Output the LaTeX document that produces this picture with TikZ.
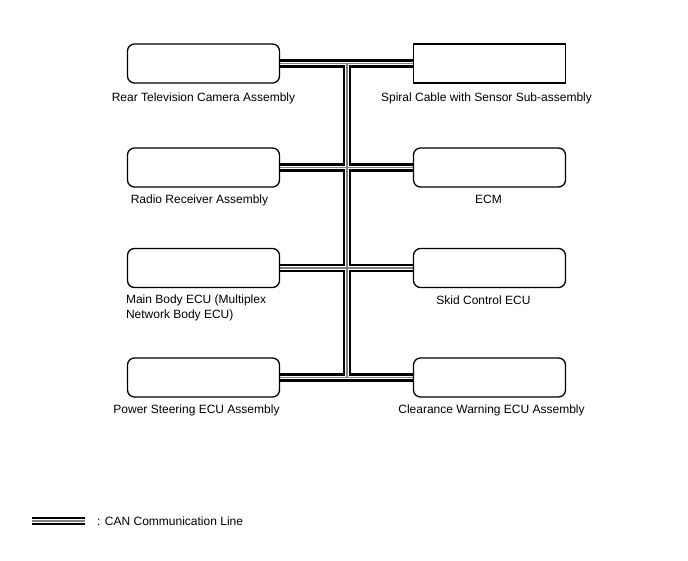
\documentclass[tikz,border=0pt]{standalone}
\usepackage{fontspec}
\setmainfont{Liberation Sans}
\usetikzlibrary{backgrounds}
\tikzset{
  unit box/.style={draw=black, line width=1.3pt, fill=white, minimum width=152pt, minimum height=39pt, inner sep=0pt},
  rbox/.style={unit box, rounded corners=7pt},
  sbox/.style={unit box},
  lbl/.style={font=\fontsize{12}{15.5}\selectfont, inner sep=0pt},
  busA/.style={draw=black, line width=8.4pt},
  busB/.style={draw=white, line width=3.6pt},
  busC/.style={draw=gray, line width=1.2pt},
}
\newcommand\buspaths[1]{%
  \draw[#1] (L1.east) -- (R1.west);
  \draw[#1] (L2.east) -- (R2.west);
  \draw[#1] (L3.east) -- (R3.west);
  \draw[#1] (L4.east) -- (R4.west);
  \draw[#1] (J1) -- (J4);
  \draw[#1] (G1) -- (G2);
}
\begin{document}
\begin{tikzpicture}[x=1pt,y=-1pt]
\useasboundingbox (0,0) rectangle (688,560);
% boxes
\node[rbox] (L1) at (203.5,63.5) {};
\node[sbox] (R1) at (489.5,63.5) {};
\node[rbox] (L2) at (203.5,167.5) {};
\node[rbox] (R2) at (489.5,167.5) {};
\node[rbox] (L3) at (203.5,268) {};
\node[rbox] (R3) at (489.5,268) {};
\node[rbox] (L4) at (203.5,377.5) {};
\node[rbox] (R4) at (489.5,377.5) {};
% bus junctions
\coordinate (J1) at (347,63.5);
\coordinate (J4) at (347,377.5);
% legend line ends
\coordinate (G1) at (32,521);
\coordinate (G2) at (85,521);
% labels
\node[lbl, anchor=base] at ([yshift=-18pt]L1.south) {Rear Television Camera Assembly};
\node[lbl, anchor=base] at ([xshift=-3pt,yshift=-18pt]R1.south) {Spiral Cable with Sensor Sub-assembly};
\node[lbl, anchor=base] at ([xshift=-4pt,yshift=-16pt]L2.south) {Radio Receiver Assembly};
\node[lbl, anchor=base] at ([xshift=-1pt,yshift=-16pt]R2.south) {ECM};
\node[lbl, anchor=north west, align=left] at ([xshift=-1pt,yshift=-6pt]L3.south west) {Main Body ECU (Multiplex\\Network Body ECU)};
\node[lbl, anchor=base] at ([xshift=-6pt,yshift=-16pt]R3.south) {Skid Control ECU};
\node[lbl, anchor=base] at ([xshift=-7pt,yshift=-16pt]L4.south) {Power Steering ECU Assembly};
\node[lbl, anchor=base] at ([xshift=2pt,yshift=-16pt]R4.south) {Clearance Warning ECU Assembly};
\node[lbl, anchor=west] at (97,521) {: CAN Communication Line};
% bus
\begin{scope}[on background layer]
\buspaths{busA}
\buspaths{busB}
\buspaths{busC}
\end{scope}
\end{tikzpicture}
\end{document}
